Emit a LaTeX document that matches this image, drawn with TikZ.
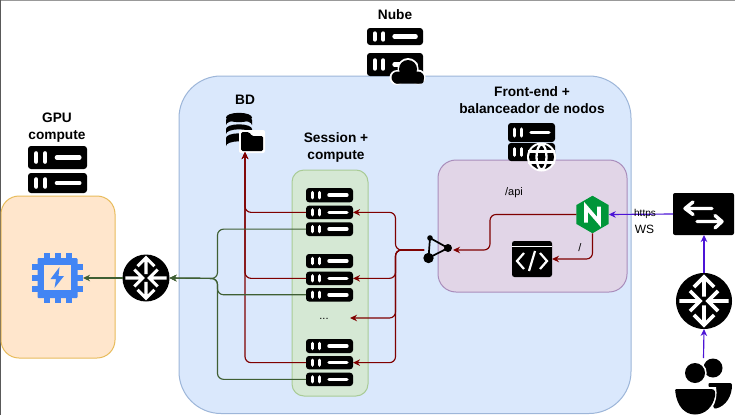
\documentclass[tikz,border=0pt]{standalone}
\usepackage{fontspec}
\setmainfont{Liberation Sans}
\usetikzlibrary{arrows.meta,shapes.geometric}
\definecolor{cblue}{HTML}{DAE8FC}\definecolor{cblueE}{HTML}{9DB6D9}
\definecolor{corange}{HTML}{FFE6CC}\definecolor{corangeE}{HTML}{E8BC5C}
\definecolor{cgreen}{HTML}{D5E8D4}\definecolor{cgreenE}{HTML}{A9CB96}
\definecolor{cpurple}{HTML}{E1D5E7}\definecolor{cpurpleE}{HTML}{A98DBB}
\definecolor{lred}{HTML}{7F0000}\definecolor{lgreen}{HTML}{3F5F33}\definecolor{lviolet}{HTML}{4C14D6}
\definecolor{chipblue}{HTML}{4285F4}\definecolor{ngx}{HTML}{009639}
\tikzset{
 x=1pt,y=-1pt,
 box/.style={line width=1pt,rounded corners=#1},
 srv/.style={fill=black,rounded corners=3pt,inner sep=0pt,outer sep=0pt,draw=none},
 icon/.style={inner sep=0pt,outer sep=0pt,draw=none},
 blk/.style={fill=black,draw=none},
 redl/.style={draw=lred,line width=1.15pt,rounded corners=6pt},
 redarrow/.style={redl,-{Stealth[length=7pt,width=6.5pt]}},
 grnl/.style={draw=lgreen,line width=1.15pt,rounded corners=6pt},
 grnarrow/.style={grnl,-{Stealth[length=7pt,width=6.5pt]}},
 vioarrow/.style={draw=lviolet,line width=1.15pt,-{Stealth[length=7pt,width=6.5pt]}},
 title/.style={font=\fontsize{13.7}{17}\selectfont\bfseries,align=center,inner sep=0pt},
 small/.style={font=\fontsize{11}{13}\selectfont,inner sep=0pt},
}
\newcommand{\srvbar}[5]{%
 \pgfmathsetmacro\bw{#4-#2}\pgfmathsetmacro\bh{#5-#3}%
 \pgfmathsetmacro\lw{0.075*\bw}%
 \pgfmathsetmacro\pa{#2+0.14*\bw}\pgfmathsetmacro\pb{#2+0.29*\bw}%
 \pgfmathsetmacro\pc{#2+0.49*\bw}\pgfmathsetmacro\pd{#2+0.87*\bw}%
 \pgfmathsetmacro\ya{#3+0.32*\bh}\pgfmathsetmacro\yb{#3+0.68*\bh}\pgfmathsetmacro\ym{(#3+#5)/2}%
 \node[srv,minimum width=\bw pt,minimum height=\bh pt] (#1) at ({(#2+#4)/2},{(#3+#5)/2}) {};
 \draw[white,line cap=round,line width=\lw pt] (\pa,\ya)--(\pa,\yb) (\pb,\ya)--(\pb,\yb) (\pc,\ym)--(\pd,\ym);
}
\newcommand{\routericon}[4]{% name cx cy r
 \node[circle,fill=black,icon,minimum size=#4*2pt] (#1) at (#2,#3) {};
 \begin{scope}[shift={(#2,#3)},x=#4pt,y=#4pt,white,line width=#4*0.13pt,line cap=butt,line join=miter]
  \draw (0,.16)--(0,.82) (-.36,.5)--(0,.86)--(.36,.5);
  \draw (0,-.16)--(0,-.82) (-.36,-.5)--(0,-.86)--(.36,-.5);
  \draw (-.88,0)--(-.2,0) (-.5,.36)--(-.14,0)--(-.5,-.36);
  \draw (.88,0)--(.2,0) (.5,.36)--(.14,0)--(.5,-.36);
 \end{scope}
}
\begin{document}
\begin{tikzpicture}
\useasboundingbox (0,0) rectangle (735,415);
\fill[white] (0,0) rectangle (735,415);
\draw[gray!80,line width=1pt] (0,0.5)--(735,0.5);
\draw[black!65,line width=1pt] (0.5,0)--(0.5,415);
% containers
\draw[box=42pt,fill=cblue,draw=cblueE] (179,76) rectangle (631,413.5);
\node[box=18pt,fill=corange,draw=corangeE,minimum width=114pt,minimum height=162pt,inner sep=0pt] (gpubox) at (58,277) {};
\node[box=12pt,fill=cgreen,draw=cgreenE,minimum width=76pt,minimum height=226pt,inner sep=0pt] (sessbox) at (330,283) {};
\node[box=18pt,fill=cpurple,draw=cpurpleE,minimum width=189pt,minimum height=132pt,inner sep=0pt] (frontbox) at (532.5,226) {};
% titles
\node[title] (tNube) at (395,15) {Nube};
\node[title] (tBD) at (245,100) {BD};
\node[title] (tSess) at (336,147) {Session +\\compute};
\node[title] (tFront) at (532,100) {Front-end +\\balanceador de nodos};
\node[title] (tGPU) at (57,128) {GPU\\compute};
% servers
\srvbar{g1}{28}{146}{87}{169}
\srvbar{g2}{28}{173}{87}{193}
\srvbar{n1}{367}{28}{423}{45}
\srvbar{n2}{367}{53}{423}{76}
\srvbar{f1}{508}{123}{555}{142}
\srvbar{f2}{508}{143}{555}{161}
\srvbar{a1}{306}{188}{353}{202.3}
\srvbar{a2}{306}{205.7}{353}{219}
\srvbar{a3}{306}{222.3}{353}{236}
\srvbar{b1}{306}{254}{353}{268}
\srvbar{b2}{306}{271.7}{353}{285}
\srvbar{b3}{306}{288}{353}{301.5}
\srvbar{c1}{306}{339}{353}{353}
\srvbar{c2}{306}{356}{353}{369.3}
\srvbar{c3}{306}{372.7}{353}{386}
% cloud on Nube
\begin{scope}
 \fill[white] (408,68.5) circle (10.5) (397,77.5) circle (7.5) (418,77) circle (7.5);
 \fill[black] (408,69) circle (9) (397.5,77.5) circle (6) (418,77.5) circle (6);
 \fill[black,rounded corners=2pt] (394,74) rectangle (423.5,83.5);
\end{scope}
% globe on front server
\node[circle,fill=white,icon,minimum size=29pt] at (541.5,157) {};
\node[circle,fill=black,icon,minimum size=25pt] (globe) at (541.5,157) {};
\begin{scope}[white,line width=2.3pt]
 \draw (541.5,157) ellipse (5 and 12.5);
 \draw (528,151.5)--(555,151.5) (528,162.5)--(555,162.5);
\end{scope}
% DB icon
\node[icon,minimum width=38pt,minimum height=39pt] (db) at (245,132.5) {};
\begin{scope}
 \fill[black] (239,117.5) ellipse (13 and 4.7);
 \foreach \ya/\yb in {120/125, 129/134, 138/146}{
  \fill[black] (226,\ya) arc[start angle=180,end angle=360,x radius=13,y radius=4.7] -- (252,\yb) arc[start angle=360,end angle=180,x radius=13,y radius=4.7] -- cycle;
 }
 \fill[white,rounded corners=2pt] (239,130) rectangle (265,153);
 \fill[black,rounded corners=1.5pt] (241,132) -- (249,132) -- (252,136) -- (263,136) -- (263,151) -- (241,151) -- cycle;
\end{scope}
% GPU chip
\node[icon,minimum width=51pt,minimum height=51pt] (chip) at (57.5,278) {};
\begin{scope}[chipblue]
 \foreach \p in {47,58,69}{
  \fill (\p-3,253) rectangle (\p+3,303);
 }
 \foreach \p in {267,278,289}{
  \fill (32,\p-3) rectangle (83,\p+3);
 }
 \fill[rounded corners=1pt] (37.5,258) rectangle (77.5,298);
 \fill[corange] (44,264.5) rectangle (71,290);
 \fill (59.5,267) -- (50.5,279) -- (56,279) -- (54.5,288) -- (64,276) -- (58.5,276) -- cycle;
\end{scope}
% routers
\routericon{r1}{146}{278}{23.5}
\routericon{r2}{704}{301}{28}
% nginx
\node[regular polygon,regular polygon sides=6,shape border rotate=30,fill=ngx,icon,minimum size=37.5pt] (ngx) at (592.5,214.5) {};
\draw[white,line width=3.8pt,line join=miter] (586,222.5)--(586,207)--(599,222)--(599,206.5);
% code icon
\node[icon,fill=black,rounded corners=2.5pt,minimum width=40pt,minimum height=36pt] (code) at (532,259) {};
\draw[white,line width=1.5pt] (512,246.5)--(552,246.5);
\begin{scope}[white,line width=2.2pt]
 \draw (524,253)--(517,261)--(524,269);
 \draw (540,253)--(547,261)--(540,269);
 \draw (535,251)--(529,271);
\end{scope}
% load balancer icon
\node[icon,minimum width=29pt,minimum height=24pt] (lb) at (438.5,250) {};
\draw[black,line width=1.7pt] (430,238)--(448,248)--(428.5,258)--cycle;
\fill[black] (430,238) circle (2.8) (448,248) circle (4) (428.5,258) circle (5.2);
% switch
\node[icon,fill=black,rounded corners=2pt,minimum width=61pt,minimum height=42pt] (sw) at (703.5,214) {};
\begin{scope}[white,line width=3.4pt,line cap=round,line join=round]
 \draw (712,208.5)--(685,208.5) (693,202)--(685,208.5)--(693,214.5);
 \draw (697,221.5)--(722,221.5) (715,215.5)--(722,221.5)--(715,228);
\end{scope}
% users
\node[icon,minimum width=58pt,minimum height=57pt] (users) at (703.5,386.5) {};
\begin{scope}
 \fill[black] (713,368) circle (9.5);
 \fill[black,rounded corners=2pt] (708,383) -- (732,383) .. controls (732,396) and (726,406) .. (714,409) -- cycle;
 \fill[white] (695,373) circle (11.7);
 \fill[black] (695,373) circle (10);
 \path[fill=white] (673,387) -- (716,387) .. controls (719,402) and (710,417) .. (695,417) .. controls (680,417) and (673,402) .. (673,387) -- cycle;
 \fill[black] (676,389) -- (711,389) .. controls (715,389) and (715.5,392) .. (715,396) .. controls (713,407) and (705,414.5) .. (695,414.5) .. controls (684,414.5) and (677,405) .. (675.5,393) .. controls (675,391) and (675,389) .. (676,389) -- cycle;
\end{scope}
% labels
\node[small] (lapi) at (514,193) {/api};
\node[small] (lroot) at (580,248) {/};
\node[font=\fontsize{11}{13}\selectfont,inner sep=0pt] (ldots) at (324,319) {...};
\coordinate (dotsin) at (350,318);
% connectors: red
\coordinate (busR) at (395.5,250);
\path[redarrow] (lb.west) -- (busR) -- (busR |- a2.east) -- (a2.east);
\path[redarrow] (lb.west) -- (busR) -- (busR |- b2.east) -- (b2.east);
\path[redarrow] (lb.west) -- (busR) -- (busR |- dotsin) -- (dotsin);
\path[redarrow] (lb.west) -- (busR) -- (busR |- c2.east) -- (c2.east);
\path[redarrow] (a2.west) -- (db.south |- a2.west) -- (db.south);
\path[redarrow] (b2.west) -- (db.south |- b2.west) -- (db.south);
\path[redarrow] (c2.west) -- (db.south |- c2.west) -- (db.south);
\coordinate (ngxN) at (490,214.5);
\path[redarrow] (ngx.west) -- (ngxN) -- (490,250) -- (lb.east);
\path[redarrow] (ngx.south) -- (ngx.south |- code.east) -- (code.east);
% connectors: green
\coordinate (busG) at (217.5,278.5);
\path[grnarrow] (a3.west) -- (busG |- a3.west) -- (busG) -- (r1.east);
\path[grnarrow] (b3.west) -- (busG |- b3.west) -- (busG) -- (r1.east);
\path[grnarrow] (c3.west) -- (busG |- c3.west) -- (busG) -- (r1.east);
\path[grnarrow] (r1.west) -- (chip.east |- r1.west);
% connectors: violet
\path[vioarrow] (sw.west) -- (ngx.east);
\path[vioarrow] (r2.north) -- (sw.south -| r2.north);
\path[vioarrow] (users.north) -- (r2.south);
\node[font=\fontsize{10}{12}\selectfont,inner sep=0pt] (lhttps) at (645,214) {https};
\node[font=\fontsize{12}{14}\selectfont,inner sep=0pt] (lws) at (644.5,229.5) {WS};
\end{tikzpicture}
\end{document}
